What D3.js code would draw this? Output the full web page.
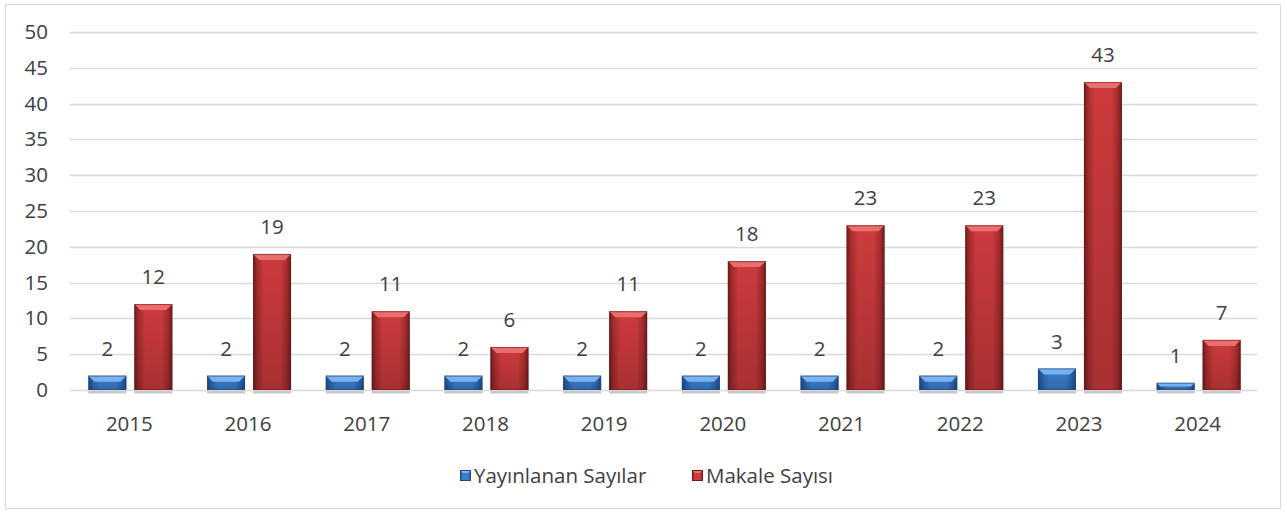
<!DOCTYPE html>
<html>
<head>
<meta charset="utf-8">
<script src="https://cdn.jsdelivr.net/npm/d3@7"></script>
<style>
  body { margin: 0; background: #fff; }
  text { font-family: "Open Sans", "Noto Sans", sans-serif; fill: #404040; }
</style>
</head>
<body>
<div id="chart"></div>
<script>
const years = ["2015", "2016", "2017", "2018", "2019", "2020", "2021", "2022", "2023", "2024"];
const issues = [2, 2, 2, 2, 2, 2, 2, 2, 3, 1];
const articles = [12, 19, 11, 6, 11, 18, 23, 23, 43, 7];
const seriesNames = ["Yayınlanan Sayılar", "Makale Sayısı"];
const yTicks = [0, 5, 10, 15, 20, 25, 30, 35, 40, 45, 50];

const WIDTH = 1287;
const HEIGHT = 514;
const MARGIN = { top: 32, right: 30, bottom: 124, left: 70 };
const FONT = "20.5px";

const palette = [
    { main: "#3c7fcf", light: "#7ab2ef", dark: "#1d4a86", edge: "#2a62a8" },
    { main: "#cd3b3d", light: "#ea6e6e", dark: "#6e1a1a", edge: "#a32b2c" }
];

const svg = d3.select("#chart")
    .append("svg")
    .attr("width", WIDTH)
    .attr("height", HEIGHT);

// outer frame
svg.append("rect")
    .attr("x", 5.5).attr("y", 4.5)
    .attr("width", WIDTH - 12).attr("height", HEIGHT - 10)
    .attr("fill", "#fff")
    .attr("stroke", "#d9d9d9");

const x = d3.scaleBand()
    .domain(years)
    .range([MARGIN.left, WIDTH - MARGIN.right]);

const y = d3.scaleLinear()
    .domain([0, 50])
    .range([HEIGHT - MARGIN.bottom, MARGIN.top]);

// gradients
const defs = svg.append("defs");
palette.forEach((p, i) => {
    const g = defs.append("linearGradient").attr("id", "grad" + i)
        .attr("x1", "0").attr("x2", "1").attr("y1", "0").attr("y2", "0");
    g.append("stop").attr("offset", "0%").attr("stop-color", p.dark);
    g.append("stop").attr("offset", "10%").attr("stop-color", p.edge);
    g.append("stop").attr("offset", "28%").attr("stop-color", p.main);
    g.append("stop").attr("offset", "72%").attr("stop-color", p.main);
    g.append("stop").attr("offset", "90%").attr("stop-color", p.edge);
    g.append("stop").attr("offset", "100%").attr("stop-color", p.dark);
});
const shade = defs.append("linearGradient").attr("id", "shade")
    .attr("x1", "0").attr("x2", "0").attr("y1", "0").attr("y2", "1");
shade.append("stop").attr("offset", "0%").attr("stop-color", "#000").attr("stop-opacity", 0);
shade.append("stop").attr("offset", "100%").attr("stop-color", "#000").attr("stop-opacity", 0.18);

// gridlines
svg.append("g")
    .selectAll("line")
    .data(yTicks)
    .enter()
    .append("line")
    .attr("x1", MARGIN.left)
    .attr("x2", WIDTH - MARGIN.right)
    .attr("y1", d => Math.round(y(d)) + 0.5)
    .attr("y2", d => Math.round(y(d)) + 0.5)
    .attr("stroke", "#d9d9d9")
    .attr("stroke-width", 1.5);

// y tick labels
svg.append("g")
    .selectAll("text")
    .data(yTicks)
    .enter()
    .append("text")
    .attr("x", 48)
    .attr("y", d => y(d) + 7)
    .attr("text-anchor", "end")
    .style("font-size", FONT)
    .text(d => d);

// x labels
svg.append("g")
    .selectAll("text")
    .data(years)
    .enter()
    .append("text")
    .attr("x", d => x(d) + x.bandwidth() / 2)
    .attr("y", 431)
    .attr("text-anchor", "middle")
    .style("font-size", FONT)
    .text(d => d);

const BAR_W = 38;
const offsets = [-41, 5];

function drawBar(g, x0, v, p, gi) {
    const top = y(v);
    const base = y(0);
    const h = base - top;
    const bev = Math.min(6, h / 2);
    // shadow
    g.append("rect")
        .attr("x", x0).attr("y", base + 1)
        .attr("width", BAR_W).attr("height", 2.5)
        .attr("fill", "#c8c8c8");
    g.append("rect")
        .attr("x", x0).attr("y", top)
        .attr("width", BAR_W).attr("height", h)
        .attr("fill", `url(#grad${gi})`);
    g.append("rect")
        .attr("x", x0).attr("y", top)
        .attr("width", BAR_W).attr("height", h)
        .attr("fill", "url(#shade)");
    // top bevel
    g.append("polygon")
        .attr("points", [
            [x0, top], [x0 + BAR_W, top],
            [x0 + BAR_W - bev, top + bev], [x0 + bev, top + bev]
        ].map(q => q.join(",")).join(" "))
        .attr("fill", p.light);
    g.append("rect")
        .attr("x", x0 + 0.5).attr("y", top + 0.5)
        .attr("width", BAR_W - 1).attr("height", Math.max(0, h - 1))
        .attr("fill", "none")
        .attr("stroke", p.dark).attr("stroke-width", 1).attr("opacity", 0.6);
}

[issues, articles].forEach((vals, si) => {
    const g = svg.append("g");
    years.forEach((yr, i) => {
        const cx = x(yr) + x.bandwidth() / 2;
        const x0 = cx + offsets[si];
        drawBar(g, x0, vals[i], palette[si], si);
        g.append("text")
            .attr("x", x0 + BAR_W / 2)
            .attr("y", y(vals[i]) - 20)
            .attr("text-anchor", "middle")
            .style("font-size", FONT)
            .text(vals[i]);
    });
});

// legend
const legendItems = [{ x: 460, name: seriesNames[0] }, { x: 692, name: seriesNames[1] }];
legendItems.forEach((d, i) => {
    const lg = svg.append("g").attr("transform", `translate(${d.x},470)`);
    lg.append("rect").attr("width", 11).attr("height", 11).attr("fill", `url(#grad${i})`);
    lg.append("polygon").attr("points", "0,0 11,0 8,3 3,3").attr("fill", palette[i].light);
    lg.append("rect").attr("x", 0.5).attr("y", 0.5).attr("width", 10).attr("height", 10)
        .attr("fill", "none").attr("stroke", palette[i].dark);
    lg.append("text")
        .attr("x", 14).attr("y", 13)
        .style("font-size", FONT)
        .text(d.name);
});
</script>
</body>
</html>
